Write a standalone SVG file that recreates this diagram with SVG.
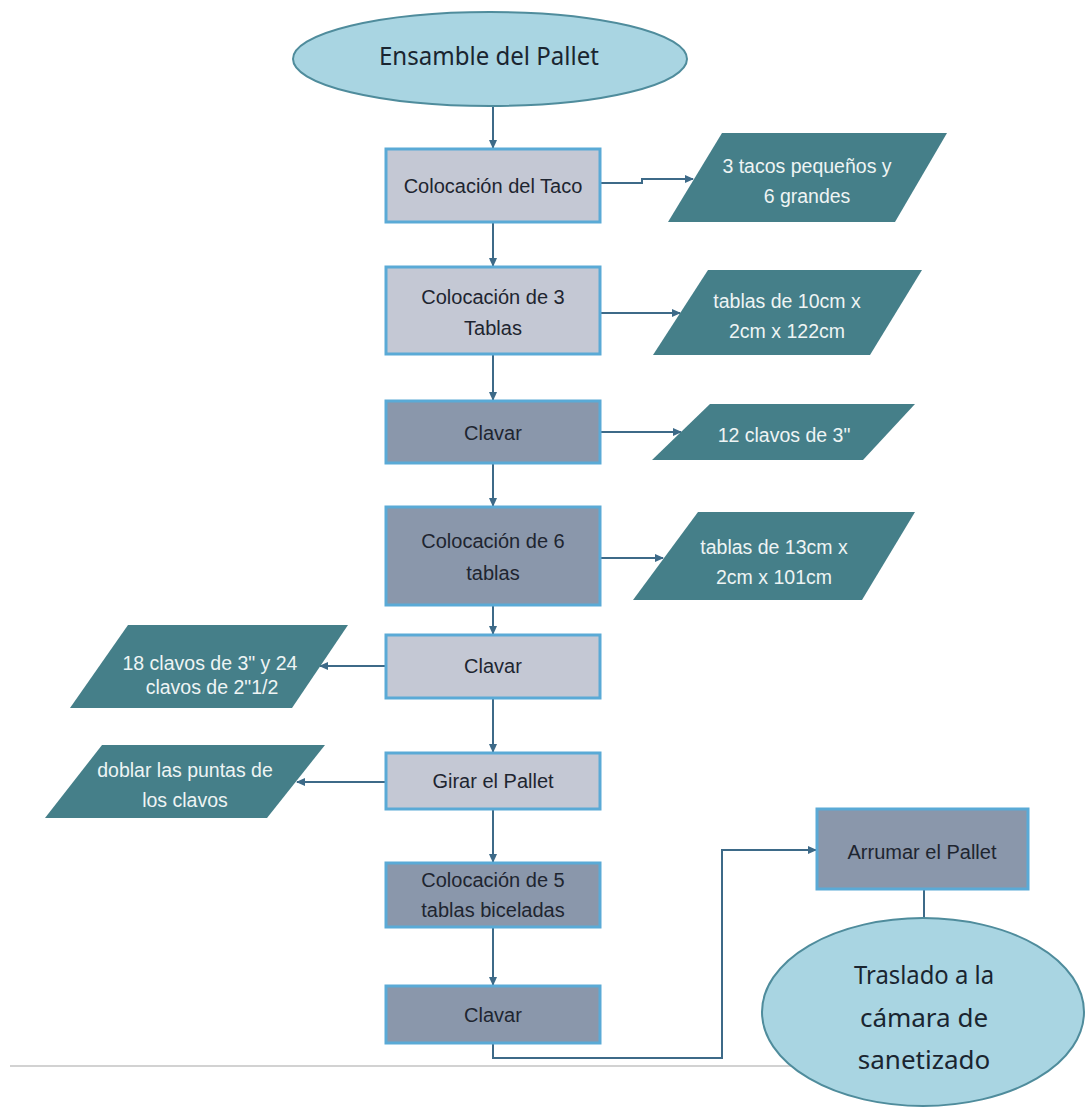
<svg xmlns="http://www.w3.org/2000/svg" width="1086" height="1108" viewBox="0 0 1086 1108">
<defs>
<marker id="arr" markerWidth="9" markerHeight="8" refX="8" refY="4" orient="auto" markerUnits="userSpaceOnUse">
<path d="M0,0 L9,4 L0,8 z" fill="#3d6a88"/>
</marker>
<style>
.light{fill:#c4c8d4;stroke:#5aaad6;stroke-width:3}
.dark{fill:#8a97ab;stroke:#5aaad6;stroke-width:3}
.para{fill:#457f89}
.ell{fill:#a9d5e2;stroke:#4f8c9c;stroke-width:2}
.bt{font-family:"Liberation Sans",Arial,sans-serif;font-size:20px;fill:#1e2530;text-anchor:middle}
.pt{font-family:"Liberation Sans",Arial,sans-serif;font-size:19.5px;fill:#eef4f4;text-anchor:middle}
.et{font-family:"Noto Sans","Open Sans",sans-serif;font-size:26px;fill:#1a2530;text-anchor:middle}
.con{fill:none;stroke:#3d6a88;stroke-width:2}
</style>
</defs>
<rect width="1086" height="1108" fill="#ffffff"/>
<line x1="10" y1="1066" x2="900" y2="1066" stroke="#d2d2d2" stroke-width="2"/>
<g id="connectors">
<path class="con" d="M493,106 V148" marker-end="url(#arr)"/>
<path class="con" d="M493,222 V266" marker-end="url(#arr)"/>
<path class="con" d="M493,354 V400" marker-end="url(#arr)"/>
<path class="con" d="M493,463 V506" marker-end="url(#arr)"/>
<path class="con" d="M493,605 V634" marker-end="url(#arr)"/>
<path class="con" d="M493,698 V752" marker-end="url(#arr)"/>
<path class="con" d="M493,809 V862" marker-end="url(#arr)"/>
<path class="con" d="M493,927 V985" marker-end="url(#arr)"/>
<path class="con" d="M493,1043 V1058 H722 V850 H816" marker-end="url(#arr)"/>
<path class="con" d="M924,889 V918"/>
<path class="con" d="M600,183 H642 V179 H693" marker-end="url(#arr)"/>
<path class="con" d="M600,313 H680" marker-end="url(#arr)"/>
<path class="con" d="M600,432 H681" marker-end="url(#arr)"/>
<path class="con" d="M600,558 H663" marker-end="url(#arr)"/>
<path class="con" d="M386,666 H320" marker-end="url(#arr)"/>
<path class="con" d="M386,782 H297" marker-end="url(#arr)"/>
</g>
<g id="start">
<ellipse class="ell" cx="490" cy="59" rx="197" ry="47"/>
<text class="et" x="489" y="65" textLength="220" lengthAdjust="spacingAndGlyphs">Ensamble del Pallet</text>
</g>
<g id="box1">
<rect class="light" x="386" y="149" width="214" height="73"/>
<text class="bt" x="493" y="193">Colocación del Taco</text>
</g>
<g id="para1">
<polygon class="para" points="722,133 947,133 895,222 668,222"/>
<text class="pt" x="807" y="173">3 tacos  pequeños  y</text>
<text class="pt" x="807" y="203">6 grandes</text>
</g>
<g id="box2">
<rect class="light" x="386" y="267" width="214" height="87"/>
<text class="bt" x="493" y="304">Colocación de 3</text>
<text class="bt" x="493" y="335">Tablas</text>
</g>
<g id="para2">
<polygon class="para" points="708,270 922,270 870,355 653,355"/>
<text class="pt" x="787" y="308">tablas  de  10cm x</text>
<text class="pt" x="787" y="338">2cm x  122cm</text>
</g>
<g id="box3">
<rect class="dark" x="386" y="401" width="214" height="62"/>
<text class="bt" x="493" y="440">Clavar</text>
</g>
<g id="para3">
<polygon class="para" points="710,404 915,404 863,460 652,460"/>
<text class="pt" x="784" y="442">12 clavos  de 3"</text>
</g>
<g id="box4">
<rect class="dark" x="386" y="507" width="214" height="98"/>
<text class="bt" x="493" y="548">Colocación de 6</text>
<text class="bt" x="493" y="580">tablas</text>
</g>
<g id="para4">
<polygon class="para" points="698,512 915,512 862,600 633,600"/>
<text class="pt" x="774" y="554">tablas  de 13cm x</text>
<text class="pt" x="774" y="584">2cm x 101cm</text>
</g>
<g id="box5">
<rect class="light" x="386" y="635" width="214" height="63"/>
<text class="bt" x="493" y="673">Clavar</text>
</g>
<g id="para5">
<polygon class="para" points="128,625 348,625 292,708 70,708"/>
<text class="pt" x="210" y="670">18 clavos  de 3" y 24</text>
<text class="pt" x="212" y="694">clavos  de 2"1/2</text>
</g>
<g id="box6">
<rect class="light" x="386" y="753" width="214" height="56"/>
<text class="bt" x="493" y="788">Girar el Pallet</text>
</g>
<g id="para6">
<polygon class="para" points="102,745 325,745 267,818 45,818"/>
<text class="pt" x="185" y="777">doblar las puntas de</text>
<text class="pt" x="185" y="807">los  clavos</text>
</g>
<g id="box7">
<rect class="dark" x="386" y="863" width="214" height="64"/>
<text class="bt" x="493" y="887">Colocación de 5</text>
<text class="bt" x="493" y="917">tablas  biceladas</text>
</g>
<g id="box8">
<rect class="dark" x="386" y="986" width="214" height="57"/>
<text class="bt" x="493" y="1022">Clavar</text>
</g>
<g id="box9">
<rect class="dark" x="817" y="809" width="211" height="80"/>
<text class="bt" x="922" y="859">Arrumar el Pallet</text>
</g>
<g id="end">
<ellipse class="ell" cx="923" cy="1012" rx="161" ry="94"/>
<text class="et" x="924" y="984" textLength="140" lengthAdjust="spacingAndGlyphs">Traslado a la</text>
<text class="et" x="924" y="1027">cámara de</text>
<text class="et" x="924" y="1069">sanetizado</text>
</g>
</svg>
